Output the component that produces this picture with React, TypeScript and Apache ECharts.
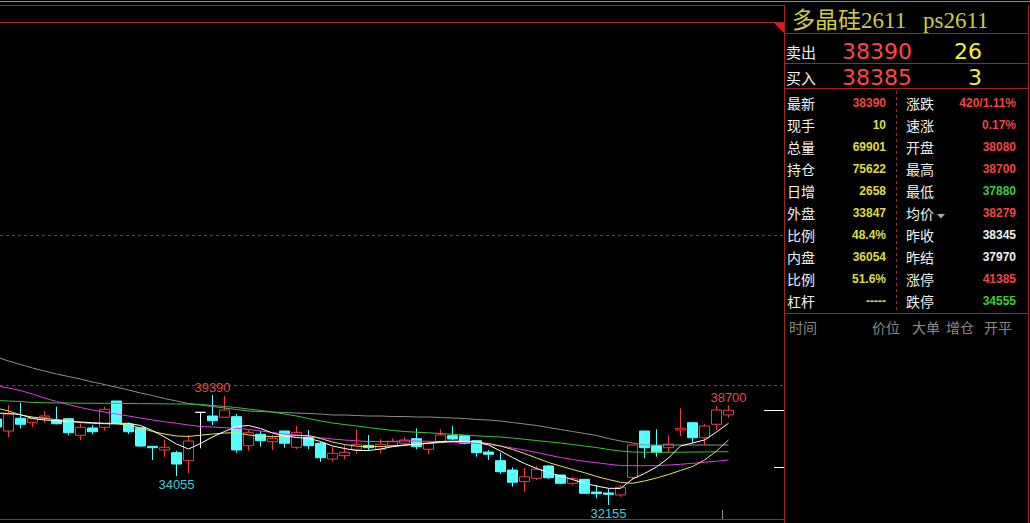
import React, { useEffect, useRef } from "react";
import * as echarts from "echarts";

// ---- candle data (oldest -> newest), [open, close, low, high] kept as separate arrays ----
const opens = [
  37810, 37020, 37860, 37570, 37925, 37700, 37830, 36740, 37220, 37265, 38995,
  37465, 37240, 36015, 35775, 35595, 35070, 38250, 38010, 37925, 37965, 36055,
  36805, 36320, 37020, 35950, 36610, 36215, 35180, 35400, 35820, 36080, 35820,
  36080, 36215, 36515, 35820, 36255, 36715, 36715, 36385, 35640, 35070, 34455,
  33690, 33910, 34720, 34130, 33585, 33845, 33010, 32945, 32815, 33975, 37020,
  36055, 35925, 37090, 37570, 36580, 37465, 38080,
];
const closes = [
  37285, 38140, 37465, 37860, 38010, 37500, 36910, 37265, 36975, 38450, 37570,
  36975, 36035, 35925, 35950, 34850, 36365, 38250, 37700, 38405, 35775, 36910,
  36385, 36540, 36215, 36935, 36055, 35265, 35555, 35620, 36150, 35925, 36150,
  36320, 36430, 35990, 36255, 36760, 36495, 36215, 35595, 35490, 34345, 33650,
  34015, 34505, 33950, 33585, 33885, 32925, 32900, 32860, 33320, 36100, 35925,
  35620, 36165, 37200, 36580, 37350, 38405, 38390,
];
const lows = [
  37155, 36630, 37200, 37285, 37570, 37465, 36740, 36430, 36805, 37040, 37465,
  36825, 35990, 35115, 35330, 34055, 34240, 35885, 37415, 37925, 35595, 35725,
  35990, 35775, 35925, 35840, 35840, 35005, 35005, 35160, 35510, 35725, 35555,
  35990, 36100, 35820, 35510, 36215, 36430, 36150, 35330, 35115, 34195, 33360,
  33030, 33800, 33865, 33535, 33450, 32880, 32595, 32155, 32700, 33800, 35225,
  35330, 35595, 36695, 36215, 36100, 37090, 37880,
];
const highs = [
  37945, 38730, 38885, 37945, 38340, 38620, 37830, 37530, 37415, 38620, 38995,
  37570, 37240, 36015, 36430, 35725, 36760, 38250, 39390, 39325, 38140, 37090,
  37040, 36760, 37020, 37350, 37090, 36320, 35990, 36100, 37135, 36760, 36475,
  36540, 36610, 37200, 36320, 37135, 37350, 36715, 36430, 35775, 35595, 34635,
  34610, 34720, 34785, 34130, 34015, 33845, 33470, 33255, 33470, 36100, 37020,
  37135, 36760, 38515, 37570, 37485, 38665, 38700,
];

// ---- moving-average lines ----
const maWhite = [
  38206, 38173, 38107, 37844, 37746, 37713, 37647, 37614, 37568, 37529, 37529,
  37529, 37384, 37055, 36628, 36167, 35838, 36200, 36628, 36989, 37318, 37384,
  37187, 36891, 36693, 36595, 36542, 36332, 36036, 35871, 35740, 35740, 35838,
  35990, 36082, 36154, 36213, 36332, 36352, 36332, 36319, 36101, 35707, 35279,
  34885, 34556, 34293, 34063, 33832, 33583, 33405, 33254, 33241, 33865, 34227,
  34655, 35246, 36036, 36233, 36430, 36957, 37529,
];
const maYellow = [
  38535, 38338, 38075, 37943, 37844, 37779, 37680, 37581, 37529, 37502, 37483,
  37417, 37220, 36989, 36825, 36693, 36661, 36746, 36825, 36891, 36904, 36759,
  36693, 36647, 36680, 36726, 36726, 36529, 36299, 36134, 36023, 35990, 36003,
  36036, 36101, 36167, 36213, 36266, 36332, 36365, 36299, 36200, 36036, 35806,
  35542, 35246, 34951, 34720, 34490, 34280, 34030, 33832, 33648, 33583, 33734,
  33931, 34161, 34424, 34687, 35115, 35707, 36430,
];
const maMagenta = [
  39982, 39850, 39686, 39456, 39193, 38962, 38765, 38568, 38403, 38272, 38140,
  38009, 37877, 37746, 37634, 37529, 37417, 37318, 37285, 37239, 37200, 37134,
  37022, 36924, 36825, 36759, 36674, 36575, 36496, 36430, 36378, 36332, 36325,
  36345, 36365, 36365, 36345, 36325, 36286, 36253, 36213, 36134, 36036, 35904,
  35773, 35608, 35444, 35279, 35148, 35029, 34937, 34839, 34753, 34740, 34740,
  34740, 34786, 34832, 34898, 34964, 35036, 35115,
];
const maGreen = [
  39028, 38995, 38962, 38897, 38884, 38864, 38864, 38851, 38844, 38844, 38838,
  38831, 38824, 38818, 38811, 38798, 38798, 38765, 38699, 38634, 38568, 38469,
  38371, 38272, 38140, 38009, 37844, 37680, 37548, 37450, 37351, 37252, 37154,
  37055, 36989, 36943, 36904, 36858, 36805, 36759, 36707, 36661, 36628, 36562,
  36476, 36397, 36312, 36233, 36134, 36036, 35937, 35806, 35707, 35641, 35628,
  35621, 35621, 35628, 35641, 35641, 35654, 35661,
];
const maGray = [
  41889, 41626, 41396, 41166, 40968, 40771, 40607, 40442, 40245, 40081, 39897,
  39721, 39522, 39357, 39160, 38995, 38831, 38732, 38634, 38535, 38436, 38338,
  38305, 38272, 38239, 38206, 38173, 38140, 38075, 38075, 38042, 38009, 38009,
  37976, 37976, 37943, 37943, 37910, 37877, 37844, 37779, 37746, 37680, 37581,
  37483, 37384, 37252, 37121, 36989, 36858, 36726, 36529, 36365, 36233, 36101,
  36101, 36101, 36101, 36101, 36101, 36101, 36101,
];

// slots on the time axis (visible candles plus empty room on the right)
const SLOT_COUNT = 66;
const categories = Array.from({ length: SLOT_COUNT }, (_, i) => String(i));

// candle indices that carry a price label
const highLabelIdx = [18, 61];
const lowLabelIdx = [15, 51];

// ---- quote panel ----
const titleName = "多晶硅2611";
const titleCode = "ps2611";
const askLabel = "卖出";
const askPrice = "38390";
const askVol = "26";
const bidLabel = "买入";
const bidPrice = "38385";
const bidVol = "3";
const leftLabels = ["最新", "现手", "总量", "持仓", "日增", "外盘", "比例", "内盘", "比例", "杠杆"];
const leftValues = ["38390", "10", "69901", "75622", "2658", "33847", "48.4%", "36054", "51.6%", "-----"];
const leftTones = ["red", "yellow", "yellow", "yellow", "yellow", "yellow", "yellow", "yellow", "yellow", "yellow"];
const rightLabels = ["涨跌", "速涨", "开盘", "最高", "最低", "均价", "昨收", "昨结", "涨停", "跌停"];
const rightValues = ["420/1.11%", "0.17%", "38080", "38700", "37880", "38279", "38345", "37970", "41385", "34555"];
const rightTones = ["red", "red", "red", "red", "green", "red", "white", "white", "red", "green"];
const headerLabels = ["时间", "价位", "大单", "增仓", "开平"];
const headerX = [789, 872, 912, 946, 984];

const TONE: Record<string, string> = {
  red: "#f04444",
  yellow: "#dede3e",
  green: "#3ec83e",
  white: "#f2f2f2",
};

const UP = "#f03c3c";
const DOWN = "#54ffff";
const FRAME = "#a02626";
const DASH = "#a82a2a";
const CJK = "'Noto Sans CJK SC', 'Noto Sans', sans-serif";
const SANS = "'Liberation Sans', Arial, sans-serif";

// the chart canvas starts this many pixels left of the page so the first candle is cut
const SHIFT = 10;

function txt(
  x: number,
  y: number,
  text: string,
  fill: string,
  fontSize: number,
  fontFamily: string,
  align: string = "left",
  fontWeight: string = "normal"
) {
  return {
    type: "text",
    x,
    y,
    silent: true,
    style: {
      text,
      fill,
      fontSize,
      fontFamily,
      fontWeight,
      align,
      textAlign: align,
      verticalAlign: "middle",
      textVerticalAlign: "middle",
    },
  };
}

function ln(x1: number, y1: number, x2: number, y2: number, stroke: string, dash?: number[]) {
  return {
    type: "line",
    silent: true,
    shape: { x1, y1, x2, y2 },
    style: { stroke, lineWidth: 1, lineDash: dash || null },
  };
}

export default function App() {
  const ref = useRef<HTMLDivElement>(null);

  useEffect(() => {
    document.body.style.margin = "0";
    document.body.style.background = "#000";
    document.body.style.overflow = "hidden";
    if (!ref.current) return;
    const chart = echarts.init(ref.current, undefined, { renderer: "svg" });

    const candleData = opens.map((o, i) => {
      const v = [o, closes[i], lows[i], highs[i]];
      if (o === closes[i]) {
        return {
          value: v,
          itemStyle: {
            color: "#ffffff",
            color0: "#ffffff",
            borderColor: "#ffffff",
            borderColor0: "#ffffff",
            borderColorDoji: "#ffffff",
          },
        };
      }
      return v;
    });

    const marks = [
      ...highLabelIdx.map((i) => ({
        coord: [i, highs[i]],
        value: highs[i],
        label: { position: "top", color: "#e04a4a" },
      })),
      ...lowLabelIdx.map((i) => ({
        coord: [i, lows[i]],
        value: lows[i],
        label: { position: "bottom", color: "#4cc8d0" },
      })),
    ];

    const maLine = (name: string, data: number[], color: string) => ({
      name,
      type: "line",
      data,
      showSymbol: false,
      symbol: "none",
      silent: true,
      lineStyle: { color, width: 1 },
      z: 3,
    });

    const graphics: any[] = [
      // outer frame
      ln(0, 1.5, 1030, 1.5, "#8c8c8c"),
      ln(0, 5.5, 784.5, 5.5, FRAME),
      ln(0, 22.5, 784.5, 22.5, FRAME),
      ln(784.5, 5, 784.5, 523, FRAME),
      ln(0, 519.5, 784.5, 519.5, FRAME),
      ln(0, 235.5, 784, 235.5, DASH, [3, 3]),
      ln(0, 385.5, 784, 385.5, DASH, [3, 3]),
      {
        type: "polygon",
        silent: true,
        shape: { points: [[774, 23], [784, 23], [784, 33]] },
        style: { fill: "#e81818" },
      },
      ln(764, 410.5, 784, 410.5, "#ffffff"),
      ln(774, 467.5, 784, 467.5, "#ffffff"),
      ln(722.5, 510, 722.5, 519, "#909090"),
      // right panel frame
      ln(1028.5, 5, 1028.5, 523, FRAME),
      ln(784, 33.5, 1029, 33.5, FRAME),
      ln(784, 63.5, 1029, 63.5, FRAME),
      ln(784, 88.5, 1029, 88.5, FRAME),
      ln(784, 313.5, 1029, 313.5, FRAME),
      ln(896.5, 91, 896.5, 312, DASH, [3, 3]),
      // title
      txt(792, 20, titleName, "#cccc44", 23, "'Liberation Serif', " + CJK),
      txt(923, 20, titleCode, "#cccc44", 23, "'Liberation Serif', serif"),
      // ask / bid
      txt(786, 51, askLabel, "#f2f2f2", 15, CJK),
      txt(842, 51, askPrice, "#ff4646", 22, "'DejaVu Sans', sans-serif"),
      txt(982, 51, askVol, "#f0f040", 22, "'DejaVu Sans', sans-serif", "right"),
      txt(786, 77.5, bidLabel, "#f2f2f2", 15, CJK),
      txt(842, 77.5, bidPrice, "#ff4646", 22, "'DejaVu Sans', sans-serif"),
      txt(982, 77.5, bidVol, "#f0f040", 22, "'DejaVu Sans', sans-serif", "right"),
      // 均价 marker
      {
        type: "polygon",
        silent: true,
        shape: { points: [[937, 214], [945, 214], [941, 218.5]] },
        style: { fill: "#a8a8a8" },
      },
    ];

    leftLabels.forEach((l, i) => {
      const y = 103 + 22 * i;
      graphics.push(txt(787, y, l, "#f2f2f2", 14, CJK));
      graphics.push(txt(886, y, leftValues[i], TONE[leftTones[i]], 12, SANS, "right", "bold"));
      graphics.push(txt(906, y, rightLabels[i], "#f2f2f2", 14, CJK));
      graphics.push(txt(1016, y, rightValues[i], TONE[rightTones[i]], 12, SANS, "right", "bold"));
    });
    headerLabels.forEach((h, i) => {
      graphics.push(txt(headerX[i], 326.5, h, "#8a8a8a", 14, CJK));
    });

    chart.setOption({
      animation: false,
      backgroundColor: "#000000",
      grid: { left: 0.5, width: 792, top: 22, bottom: 4 },
      xAxis: {
        type: "category",
        data: categories,
        show: false,
        boundaryGap: true,
      },
      yAxis: {
        type: "value",
        min: 31235,
        max: 63922,
        show: false,
        splitLine: { show: false },
      },
      series: [
        {
          name: "K",
          type: "candlestick",
          data: candleData,
          barWidth: 10,
          silent: true,
          z: 2,
          itemStyle: {
            color: "rgba(0,0,0,0)",
            color0: DOWN,
            borderColor: UP,
            borderColor0: DOWN,
            borderColorDoji: "#ffffff",
            borderWidth: 1,
          },
          markPoint: {
            symbol: "rect",
            symbolSize: 1,
            silent: true,
            itemStyle: { color: "rgba(0,0,0,0)" },
            label: {
              show: true,
              formatter: "{c}",
              fontSize: 13,
              fontFamily: SANS,
              distance: 1,
            },
            data: marks,
          },
        },
        maLine("MA60", maGray, "#8e8e8e"),
        maLine("MA40", maGreen, "#3cc03c"),
        maLine("MA20", maMagenta, "#e03ce0"),
        maLine("MA10", maYellow, "#e0e07a"),
        maLine("MA5", maWhite, "#ffffff"),
      ],
      graphic: {
        elements: [
          { type: "group", x: SHIFT, y: 0, silent: true, children: graphics },
        ],
      },
    });

    return () => {
      chart.dispose();
    };
  }, []);

  return (
    <div
      style={{
        position: "absolute",
        left: 0,
        top: 0,
        width: 1030,
        height: 523,
        overflow: "hidden",
        background: "#000",
      }}
    >
      <div
        ref={ref}
        style={{
          position: "absolute",
          left: -SHIFT,
          top: 0,
          width: 1030 + SHIFT,
          height: 523,
        }}
      />
    </div>
  );
}
